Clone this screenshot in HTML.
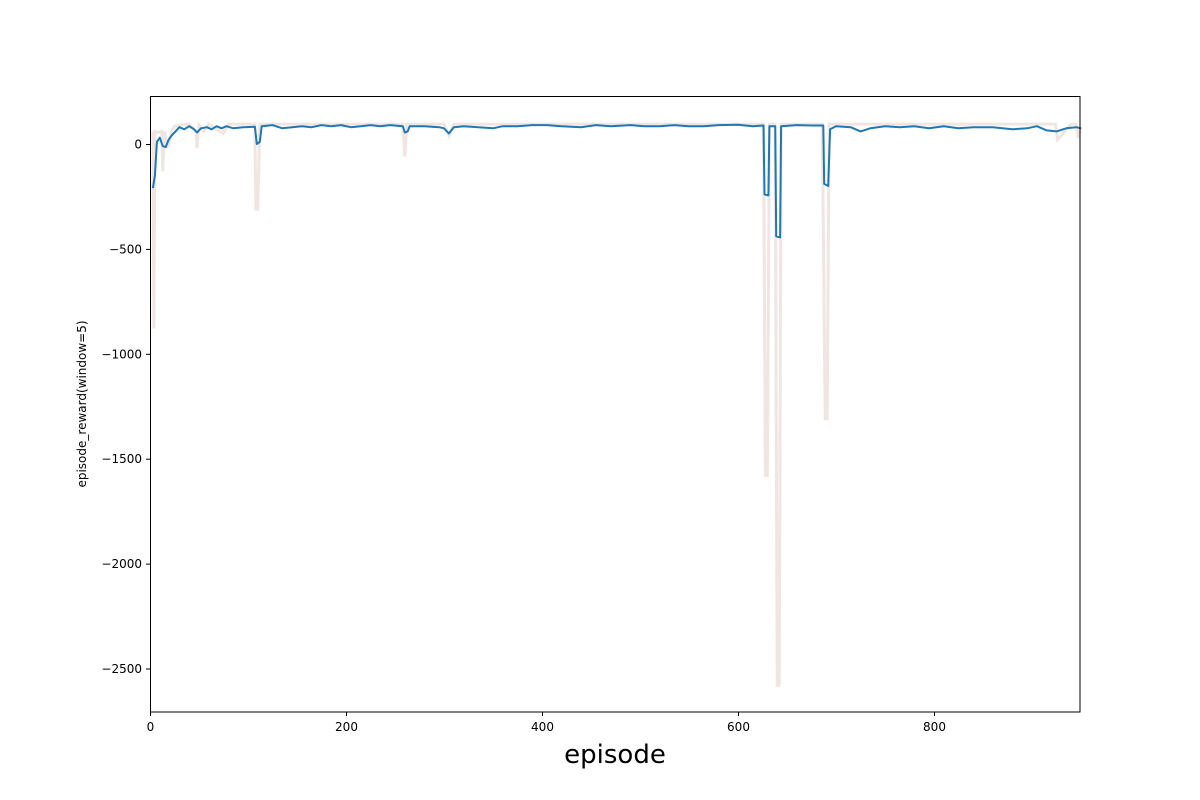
<!DOCTYPE html>
<html><head><meta charset="utf-8"><style>
html,body{margin:0;padding:0;background:#fff;}
svg{display:block;font-family:"DejaVu Sans","Liberation Sans",sans-serif;}
</style></head><body>
<svg id="chart" width="1200" height="800" viewBox="0 0 1200 800">
<rect x="0" y="0" width="1200" height="800" fill="#fff"/>
<g id="plot"></g>
<rect x="150.5" y="96.5" width="929.5" height="615.5" fill="none" stroke="#000" stroke-width="1"/>
<g id="xt"></g>
<g id="yt"></g>
<text x="615" y="763" font-size="26" text-anchor="middle">episode</text>
<text transform="translate(86,404) rotate(-90)" font-size="12" text-anchor="middle">episode_reward(window=5)</text>
</svg>
<script>
const xTicks=[0,200,400,600,800];
const yTicks=[0,-500,-1000,-1500,-2000,-2500];
const smoothEp=[3,5,7,10,13,16,19,22,26,30,35,40,45,48,52,58,63,68,73,78,85,95,107,109,112,114,125,135,145,155,165,175,185,195,205,215,225,235,245,258,260,263,265,280,295,300,305,310,320,335,350,360,375,390,405,420,440,455,470,490,505,520,535,550,565,580,600,615,626,627,631,632,638,639,643,644,660,675,687,688,692,694,700,715,725,735,750,765,780,795,810,825,840,860,880,895,905,915,925,935,945,950];
const smoothVal=[-210,-150,10,30,-10,-15,20,40,60,80,70,85,70,55,75,80,70,85,75,85,75,80,82,0,10,85,90,75,80,85,80,90,85,90,80,85,90,85,90,85,55,60,85,85,80,75,50,80,85,80,75,85,85,90,90,85,80,90,85,90,85,85,90,85,85,90,92,85,88,-240,-245,85,85,-440,-445,85,90,88,88,-190,-200,70,85,80,60,75,85,80,85,75,85,75,80,80,70,75,85,65,60,75,80,75];
const rawEp=[3,4,5,8,12,13,15,18,22,25,30,40,47,48,50,55,60,75,80,100,107,108,110,112,150,200,258,260,262,300,305,310,400,500,600,626,628,630,632,638,640,642,644,686,689,691,693,700,750,800,850,900,924,926,940,945,947,950];
const rawVal=[60,-880,60,55,60,-130,60,-20,60,85,90,95,60,-20,90,60,95,50,95,95,95,-310,-310,95,95,95,95,-60,95,95,40,95,95,95,95,95,-1580,-1580,95,95,-2580,-2580,95,95,-1310,-1310,95,95,95,95,95,95,95,20,95,95,30,80];
const X=v=>150+v*0.98, Y=v=>144-v*0.2098;
const NS="http://www.w3.org/2000/svg";
const plot=document.getElementById('plot'),xt=document.getElementById('xt'),yt=document.getElementById('yt');
function mk(t,a,p){const e=document.createElementNS(NS,t);for(const k in a)e.setAttribute(k,a[k]);p.appendChild(e);return e;}
const rp=rawEp.map((e,i)=>X(e).toFixed(1)+','+Y(rawVal[i]).toFixed(1)).join(' ');
const raw=mk('polyline',{points:rp,fill:'none',stroke:'#efe6e3','stroke-width':3,'stroke-linejoin':'miter'},plot);


const sp=smoothEp.map((e,i)=>X(e).toFixed(1)+','+Y(smoothVal[i]).toFixed(1)).join(' ');
const sm=mk('polyline',{points:sp,fill:'none',stroke:'#1f77b4','stroke-width':2,'stroke-linejoin':'round'},plot);


xTicks.forEach(v=>{const x=X(v)+0.5;
 const l=mk('line',{x1:x,x2:x,y1:712,y2:716,stroke:'#000'},xt);
 
 
 const t=mk('text',{x:x,y:731,'font-size':12,'text-anchor':'middle'},xt);t.textContent=v;
 
 });
yTicks.forEach(v=>{const y=Y(v)+0.5;
 const l=mk('line',{x1:146,x2:150,y1:y,y2:y,stroke:'#000'},yt);
 
 
 const t=mk('text',{x:142,y:y+4,'font-size':12,'text-anchor':'end'},yt);t.textContent=v<0?'\u2212'+(-v):v;
 
 });
</script>
</body></html>
